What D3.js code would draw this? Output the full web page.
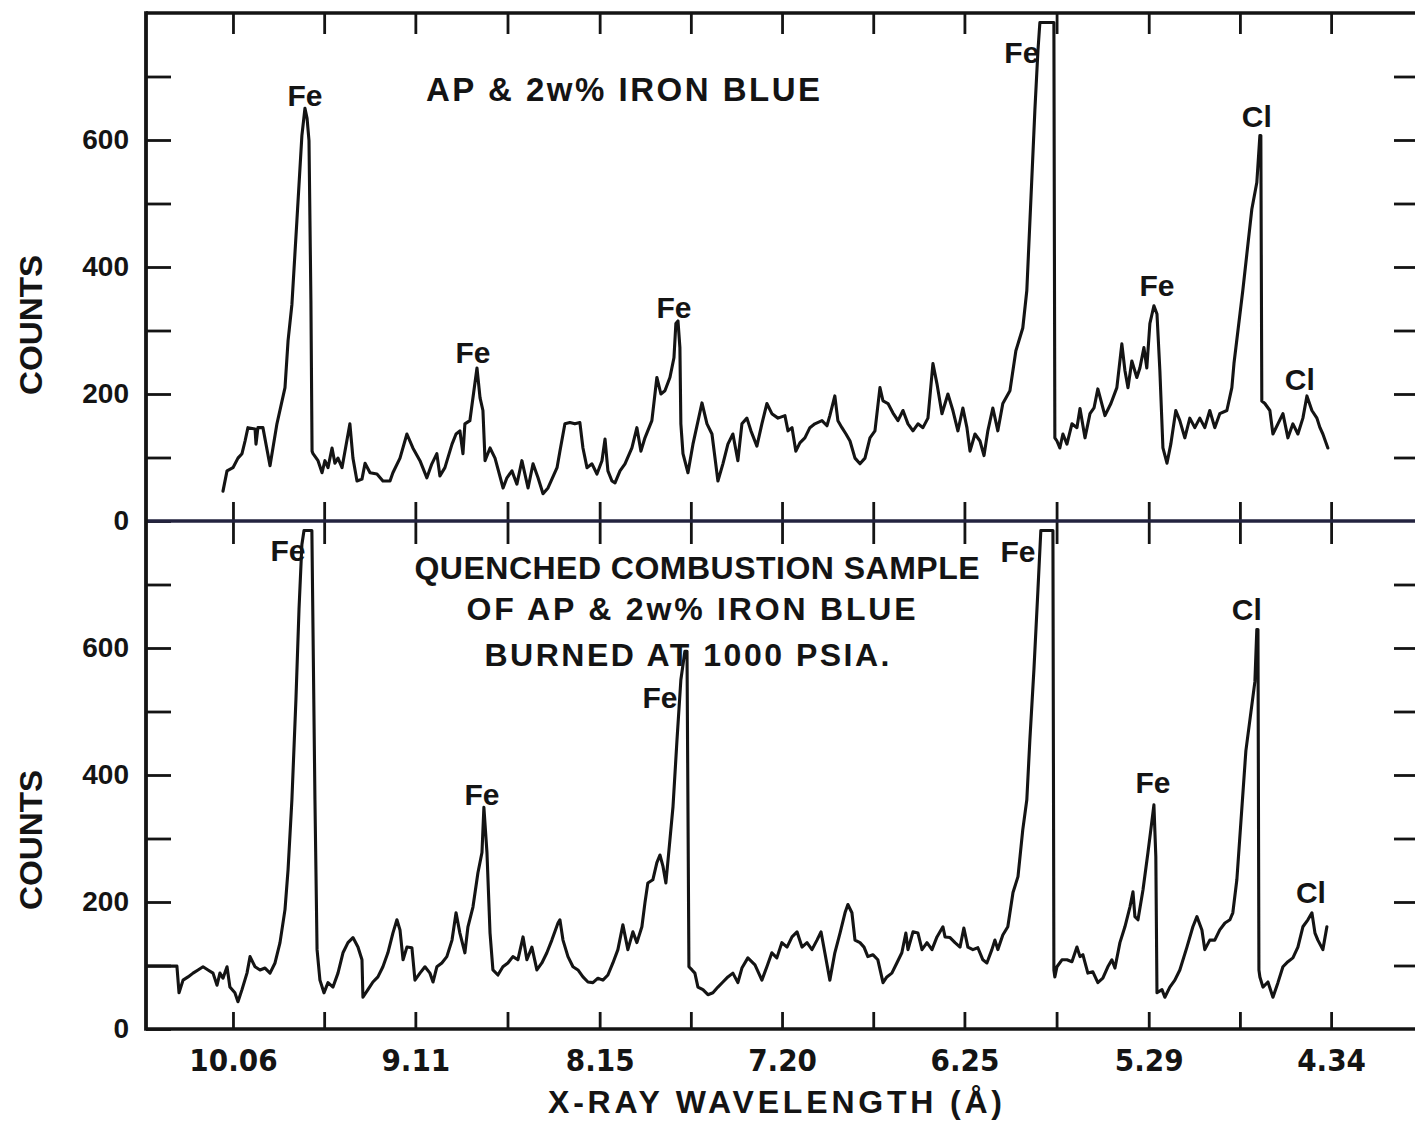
<!DOCTYPE html>
<html>
<head>
<meta charset="utf-8">
<script src="https://cdn.jsdelivr.net/npm/d3@7"></script>
<style>
  html, body { margin: 0; padding: 0; background: #ffffff; }
  svg { display: block; }
  text { font-family: "Liberation Sans", Arial, sans-serif; font-weight: bold; fill: #141414; }
  .narrow { font-family: "Liberation Sans Narrow", "DejaVu Sans Condensed", "Liberation Sans", sans-serif; }
</style>
</head>
<body>
<svg id="chart" width="1415" height="1122"></svg>
<script>
// ---- wavelength axis (Å), plotted decreasing left to right ----
const xTickValues = [10.06, 9.585, 9.11, 8.63, 8.15, 7.675, 7.20, 6.725, 6.25, 5.77, 5.29, 4.815, 4.34];
const xTickLabels = { "10.06": "10.06", "9.11": "9.11", "8.15": "8.15", "7.2": "7.20", "6.25": "6.25", "5.29": "5.29", "4.34": "4.34" };
const yTickValues = [0, 100, 200, 300, 400, 500, 600, 700];
const yTickLabels = [0, 200, 400, 600];

// ---- upper trace: AP & 2 w% iron blue ----
const topWavelength = [
  10.112,10.091,10.060,10.034,10.013,9.997,9.982,9.945,9.940,9.930,
  9.904,9.867,9.831,9.789,9.773,9.753,9.727,9.701,9.685,9.674,
  9.664,9.654,9.648,9.643,9.617,9.596,9.581,9.565,9.544,9.529,
  9.513,9.492,9.451,9.435,9.414,9.388,9.372,9.346,9.310,9.279,
  9.242,9.227,9.190,9.154,9.123,9.086,9.050,9.024,8.998,8.982,
  8.956,8.919,8.898,8.878,8.862,8.852,8.826,8.810,8.789,8.773,
  8.758,8.747,8.721,8.695,8.653,8.633,8.607,8.581,8.555,8.523,
  8.497,8.471,8.445,8.419,8.372,8.357,8.331,8.305,8.279,8.253,
  8.237,8.216,8.190,8.164,8.138,8.122,8.107,8.086,8.070,8.044,
  8.018,7.982,7.956,7.935,7.914,7.878,7.852,7.831,7.810,7.784,
  7.763,7.753,7.742,7.732,7.727,7.716,7.690,7.664,7.617,7.591,
  7.565,7.534,7.508,7.482,7.456,7.430,7.409,7.383,7.362,7.331,
  7.305,7.279,7.253,7.221,7.185,7.169,7.148,7.128,7.107,7.081,
  7.055,7.029,6.992,6.966,6.951,6.925,6.909,6.888,6.867,6.846,
  6.820,6.794,6.768,6.742,6.716,6.690,6.674,6.648,6.622,6.596,
  6.570,6.544,6.518,6.492,6.466,6.440,6.414,6.393,6.367,6.336,
  6.310,6.284,6.258,6.237,6.221,6.195,6.169,6.148,6.128,6.102,
  6.076,6.050,6.013,5.982,5.946,5.925,5.904,5.883,5.867,5.857,
  5.784,5.779,5.768,5.753,5.737,5.716,5.690,5.664,5.648,5.622,
  5.596,5.575,5.555,5.518,5.487,5.456,5.430,5.414,5.398,5.378,
  5.352,5.336,5.315,5.300,5.284,5.263,5.247,5.232,5.216,5.195,
  5.175,5.149,5.128,5.102,5.076,5.050,5.024,4.998,4.972,4.946,
  4.920,4.883,4.857,4.846,4.800,4.753,4.727,4.711,4.706,4.701,
  4.685,4.659,4.643,4.617,4.591,4.565,4.539,4.513,4.487,4.466,
  4.440,4.414,4.398,4.383,4.357
];
const topCounts = [
  47,79,84,99,106,126,147,145,121,147,
  147,87,153,210,284,341,473,607,650,634,
  599,347,110,106,95,76,95,84,115,91,
  99,84,153,99,63,66,91,76,74,63,
  63,76,99,137,115,95,68,90,106,71,
  84,121,137,142,106,153,158,194,241,194,
  174,95,115,99,52,68,79,58,95,52,
  90,68,43,52,84,110,153,155,153,155,
  115,84,90,74,95,129,79,63,60,79,
  90,115,147,110,131,158,226,200,205,226,
  257,311,315,273,153,106,76,121,186,153,
  137,63,90,121,137,95,153,162,142,118,
  153,185,169,162,166,142,147,110,123,131,
  147,153,158,150,166,197,158,147,137,126,
  99,90,99,131,142,210,189,185,170,158,
  174,153,142,153,147,162,248,216,169,200,
  174,142,178,147,110,137,126,103,142,178,
  142,185,205,268,304,363,505,647,741,785,
  785,131,126,115,137,121,153,147,177,131,
  169,178,208,166,185,210,279,237,210,252,
  226,241,273,241,311,339,326,237,115,91,
  121,174,158,131,162,147,162,147,174,147,
  169,174,210,248,363,491,533,607,607,189,
  185,174,137,153,169,131,153,137,162,197,
  174,162,147,137,115
];

// ---- lower trace: quenched combustion sample, 1000 psia ----
const bottomWavelength = [
  10.508,10.352,10.341,10.320,10.294,10.268,10.242,10.216,10.190,10.164,
  10.143,10.128,10.112,10.091,10.076,10.050,10.034,10.013,9.987,9.971,
  9.945,9.919,9.893,9.867,9.841,9.815,9.789,9.773,9.753,9.732,
  9.716,9.701,9.690,9.649,9.633,9.622,9.607,9.586,9.565,9.539,
  9.513,9.487,9.461,9.435,9.409,9.388,9.383,9.357,9.331,9.305,
  9.279,9.253,9.227,9.206,9.190,9.174,9.154,9.128,9.112,9.086,
  9.060,9.034,9.018,8.998,8.972,8.946,8.919,8.898,8.878,8.852,
  8.836,8.810,8.784,8.763,8.753,8.737,8.721,8.706,8.680,8.654,
  8.628,8.602,8.576,8.549,8.529,8.503,8.477,8.451,8.425,8.399,
  8.367,8.357,8.341,8.315,8.289,8.263,8.237,8.211,8.185,8.159,
  8.133,8.107,8.081,8.055,8.029,8.003,7.977,7.956,7.930,7.914,
  7.899,7.873,7.852,7.836,7.820,7.805,7.784,7.768,7.747,7.727,
  7.706,7.695,7.685,7.669,7.654,7.638,7.612,7.586,7.560,7.534,
  7.508,7.482,7.456,7.430,7.409,7.378,7.341,7.305,7.279,7.253,
  7.227,7.201,7.174,7.148,7.122,7.096,7.070,7.044,7.018,6.997,
  6.977,6.951,6.925,6.898,6.872,6.857,6.836,6.820,6.794,6.773,
  6.753,6.727,6.701,6.674,6.654,6.628,6.602,6.576,6.555,6.544,
  6.518,6.492,6.471,6.445,6.419,6.393,6.362,6.351,6.325,6.299,
  6.273,6.253,6.232,6.206,6.180,6.154,6.133,6.107,6.091,6.076,
  6.050,6.024,5.997,5.971,5.946,5.925,5.909,5.888,5.867,5.852,
  5.789,5.784,5.779,5.768,5.742,5.716,5.690,5.664,5.648,5.633,
  5.607,5.581,5.555,5.529,5.503,5.482,5.466,5.440,5.414,5.388,
  5.372,5.362,5.346,5.320,5.294,5.279,5.263,5.253,5.247,5.221,
  5.206,5.180,5.154,5.128,5.091,5.060,5.039,5.013,4.998,4.972,
  4.946,4.920,4.893,4.867,4.852,4.831,4.784,4.737,4.727,4.721,
  4.716,4.711,4.695,4.669,4.643,4.617,4.591,4.565,4.539,4.513,
  4.487,4.461,4.440,4.424,4.409,4.383,4.362
];
const bottomCounts = [
  99,99,57,77,82,88,93,98,93,88,
  69,88,80,98,66,57,43,62,88,114,
  98,93,96,88,104,136,188,251,361,519,
  661,763,785,785,361,125,77,57,73,66,
  88,120,136,144,129,109,50,62,74,82,
  98,120,151,172,156,109,129,128,77,88,
  98,88,74,98,104,114,140,183,151,120,
  161,192,246,278,349,278,151,93,85,98,
  104,114,109,145,109,129,93,104,120,140,
  167,172,140,114,98,93,82,74,73,80,
  77,85,104,125,164,125,153,136,161,199,
  230,235,262,274,256,230,298,350,456,550,
  595,595,98,93,88,66,62,54,57,66,
  74,82,88,73,96,112,101,77,98,120,
  112,136,129,145,153,129,136,125,140,153,
  120,77,120,151,183,196,183,140,136,129,
  114,117,109,73,82,88,104,120,151,125,
  153,151,125,136,125,145,161,145,144,136,
  129,159,129,125,128,109,104,125,140,125,
  148,161,215,240,314,361,456,566,692,785,
  785,93,82,98,109,109,106,129,114,117,
  88,90,73,80,98,109,96,136,161,192,
  216,177,172,219,278,314,353,271,57,62,
  50,66,77,93,129,161,177,156,125,140,
  140,156,167,172,183,235,438,547,629,629,
  93,82,66,74,50,73,98,106,112,129,
  161,172,183,151,140,125,161
];

// ---- peak identifications (label anchor: wavelength, count level) ----
const topPeakNames = ["Fe", "Fe", "Fe", "Fe", "Fe", "Cl", "Cl"];
const topPeakWavelengths = [9.685, 8.810, 7.763, 5.951, 5.247, 4.727, 4.503];
const topPeakLabelCounts = [653, 249, 320, 722, 355, 620, 207];
const bottomPeakNames = ["Fe", "Fe", "Fe", "Fe", "Fe", "Cl", "Cl"];
const bottomPeakWavelengths = [9.773, 8.763, 7.836, 5.971, 5.268, 4.779, 4.445];
const bottomPeakLabelCounts = [737, 353, 506, 735, 371, 644, 199];

const topTitle = ["AP & 2w% IRON BLUE"];
const bottomTitle = ["QUENCHED COMBUSTION SAMPLE", "OF AP & 2w% IRON BLUE", "BURNED AT 1000 PSIA."];

// ---- layout ----
const frame = { left: 146, right: 1420, top: 13, mid: 521, bottom: 1029 };
const svg = d3.select("#chart");

const x = d3.scaleLinear().domain([10.513, 3.877]).range([frame.left, frame.right]);
const yTop = d3.scaleLinear().domain([0, 800]).range([frame.mid, frame.top]);
const yBottom = d3.scaleLinear().domain([0, 800]).range([frame.bottom, frame.mid]);

const ink = "#141414";

function styleAxis(g, width) {
  g.select(".domain").remove();
  g.selectAll(".tick line").attr("stroke", ink).attr("stroke-width", width);
}

// x ticks on every horizontal frame edge, pointing into each panel
svg.append("g").attr("transform", `translate(0,${frame.top})`)
  .call(d3.axisTop(x).tickValues(xTickValues).tickSize(-21).tickFormat(""))
  .call(g => styleAxis(g, 2.8));
svg.append("g").attr("transform", `translate(0,${frame.mid})`)
  .call(d3.axisBottom(x).tickValues(xTickValues).tickSize(-19).tickFormat(""))
  .call(g => styleAxis(g, 2.8));
svg.append("g").attr("transform", `translate(0,${frame.mid})`)
  .call(d3.axisTop(x).tickValues(xTickValues).tickSize(-23).tickFormat(""))
  .call(g => styleAxis(g, 2.8));
svg.append("g").attr("transform", `translate(0,${frame.bottom})`)
  .call(d3.axisBottom(x).tickValues(xTickValues).tickSize(-17).tickPadding(20)
    .tickFormat(d => xTickLabels[String(+d.toFixed(2))] || ""))
  .call(g => styleAxis(g, 2.8))
  .call(g => g.selectAll("text").attr("class", "narrow").attr("font-size", 31)
    .attr("fill", ink).style("font-weight", "bold"));

// y ticks: left with labels, right plain
[yTop, yBottom].forEach(y => {
  svg.append("g").attr("transform", `translate(${frame.left},0)`)
    .call(d3.axisLeft(y).tickValues(yTickValues).tickSize(-25).tickPadding(17)
      .tickFormat(d => yTickLabels.includes(d) ? d : ""))
    .call(g => styleAxis(g, 2.8))
    .call(g => g.selectAll("text").attr("font-size", 28).attr("fill", ink)
      .style("font-family", "'Liberation Sans', Arial, sans-serif").style("font-weight", "bold"));
  svg.append("g").attr("transform", `translate(${frame.right},0)`)
    .call(d3.axisRight(y).tickValues(yTickValues.filter(v => v > 0)).tickSize(-26).tickFormat(""))
    .call(g => styleAxis(g, 2.8));
});

// frame
svg.append("line").attr("x1", frame.left).attr("x2", frame.right).attr("y1", frame.top).attr("y2", frame.top)
  .attr("stroke", ink).attr("stroke-width", 3.4);
svg.append("line").attr("x1", frame.left).attr("x2", frame.right).attr("y1", frame.mid).attr("y2", frame.mid)
  .attr("stroke", "#23233f").attr("stroke-width", 3.4);
svg.append("line").attr("x1", frame.left).attr("x2", frame.right).attr("y1", frame.bottom).attr("y2", frame.bottom)
  .attr("stroke", ink).attr("stroke-width", 3.6);
svg.append("line").attr("x1", frame.left).attr("x2", frame.left).attr("y1", frame.top - 1.7).attr("y2", frame.bottom + 1.8)
  .attr("stroke", ink).attr("stroke-width", 3.8);

// spectra
function drawTrace(wl, counts, y) {
  const pts = d3.zip(wl, counts);
  const line = d3.line().x(d => x(d[0])).y(d => y(d[1]));
  svg.append("path").datum(pts).attr("d", line)
    .attr("fill", "none").attr("stroke", ink).attr("stroke-width", 3.1)
    .attr("stroke-linejoin", "round").attr("stroke-linecap", "round");
}
drawTrace(topWavelength, topCounts, yTop);
drawTrace(bottomWavelength, bottomCounts, yBottom);

// peak labels
function drawPeakLabels(names, wls, levels, y) {
  svg.append("g").selectAll("text").data(names).join("text")
    .attr("x", (d, i) => x(wls[i]))
    .attr("y", (d, i) => y(levels[i]))
    .attr("text-anchor", "middle").attr("font-size", 30)
    .text(d => d);
}
drawPeakLabels(topPeakNames, topPeakWavelengths, topPeakLabelCounts, yTop);
drawPeakLabels(bottomPeakNames, bottomPeakWavelengths, bottomPeakLabelCounts, yBottom);

// sample descriptions
svg.append("text").attr("x", 623).attr("y", 101).attr("text-anchor", "middle")
  .attr("font-size", 33).attr("textLength", 394).attr("lengthAdjust", "spacing")
  .text(topTitle[0]);
const bottomTitleX = [697, 691, 687];
const bottomTitleY = [579, 620, 666];
const bottomTitleW = [565, 449, 405];
bottomTitle.forEach((t, i) => {
  svg.append("text").attr("x", bottomTitleX[i]).attr("y", bottomTitleY[i]).attr("text-anchor", "middle")
    .attr("font-size", 32).attr("textLength", bottomTitleW[i]).attr("lengthAdjust", "spacing")
    .text(t);
});

// axis titles
svg.append("text").attr("transform", "translate(42,325) rotate(-90)").attr("text-anchor", "middle")
  .attr("font-size", 31).attr("textLength", 140).attr("lengthAdjust", "spacingAndGlyphs")
  .attr("fill", "#5e2f29").text("COUNTS");
svg.append("text").attr("transform", "translate(42,840) rotate(-90)").attr("text-anchor", "middle")
  .attr("font-size", 31).attr("textLength", 140).attr("lengthAdjust", "spacingAndGlyphs")
  .text("COUNTS");
svg.append("text").attr("x", 775).attr("y", 1113).attr("text-anchor", "middle")
  .attr("font-size", 32).attr("textLength", 454).attr("lengthAdjust", "spacing")
  .text("X-RAY WAVELENGTH (Å)");
</script>
</body>
</html>
